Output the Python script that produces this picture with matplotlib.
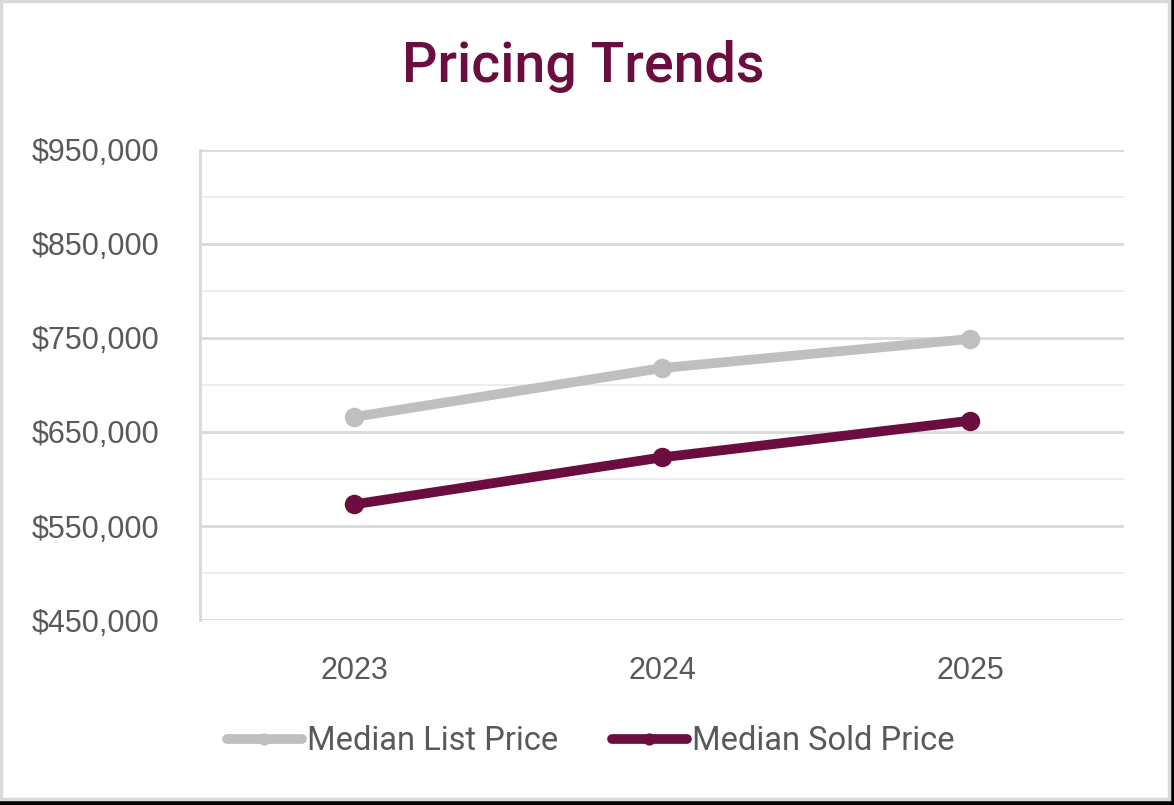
import matplotlib
matplotlib.use("Agg")
from matplotlib import pyplot as plt
from matplotlib.patches import Rectangle
from matplotlib.ticker import FuncFormatter

# chart data
years = ["2023", "2024", "2025"]
list_price = [666000, 718000, 749000]
sold_price = [573000, 623000, 662000]
y_ticks = [450000, 550000, 650000, 750000, 850000, 950000]
y_minor = [500000, 600000, 700000, 800000, 900000]

MAROON = "#6B0D3E"
GREY_LINE = "#BFBFBF"
TXT = "#595959"

plt.rcParams["font.family"] = ["Roboto", "DejaVu Sans"]

fig = plt.figure(figsize=(11.74, 8.05), dpi=100)
fig.patch.set_facecolor("white")

# card frame: black strip right/bottom, grey border
fig.patches.append(Rectangle((0, 0), 1, 1, transform=fig.transFigure,
                             facecolor="black", edgecolor="none", zorder=-3))
fig.patches.append(Rectangle((0.0012, 0.0070), 0.9946, 0.9915, transform=fig.transFigure,
                             facecolor="white", edgecolor="#D9D9D9", linewidth=2.5, zorder=-2))

ax = fig.add_axes([0.1704, 0.2298, 0.787, 0.5839])
x = range(len(years))
ax.plot(x, list_price, color=GREY_LINE, lw=7, marker="o", ms=13,
        solid_capstyle="round", label="Median List Price", zorder=3)
ax.plot(x, sold_price, color=MAROON, lw=7, marker="o", ms=13,
        solid_capstyle="round", label="Median Sold Price", zorder=3)

ax.set_xlim(-0.5, 2.5)
ax.set_ylim(450000, 950000)
ax.set_xticks(list(x))
ax.set_xticklabels(years)
ax.set_yticks(y_ticks)
ax.set_yticks(y_minor, minor=True)
ax.yaxis.set_major_formatter(FuncFormatter(lambda v, p: "${:,.0f}".format(v)))
ax.grid(axis="y", which="major", color="#D9D9D9", lw=2)
ax.grid(axis="y", which="minor", color="#EDEDED", lw=1.5)
ax.set_axisbelow(True)
for s in ["top", "right", "bottom"]:
    ax.spines[s].set_visible(False)
ax.spines["left"].set_color("#D9D9D9")
ax.spines["left"].set_linewidth(2)
ax.tick_params(axis="both", which="both", length=0, colors=TXT, labelsize=22)
ax.tick_params(axis="y", pad=29)
ax.tick_params(axis="x", pad=26)
for lbl in ax.get_yticklabels() + ax.get_xticklabels():
    lbl.set_family(["Liberation Sans", "DejaVu Sans"])

fig.text(0.4966, 0.917, "Pricing Trends", ha="center", va="center",
         fontsize=40, color=MAROON, fontweight="medium")

leg = fig.legend(loc="center", bbox_to_anchor=(0.503, 0.0795), ncol=2, frameon=False,
                 fontsize=23.5, handlelength=2.3, handletextpad=0.15, columnspacing=1.65,
                 markerscale=0.6)
for t in leg.get_texts():
    t.set_color(TXT)

fig.savefig("out.png", dpi=100)
